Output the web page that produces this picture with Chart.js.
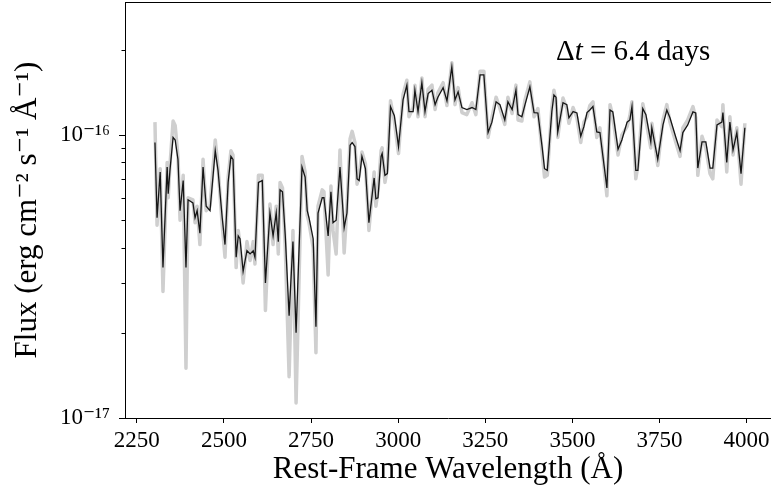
<!DOCTYPE html>
<html>
<head>
<meta charset="utf-8">
<script src="https://cdn.jsdelivr.net/npm/chart.js@4/dist/chart.umd.min.js"></script>
<style>
  body { margin: 0; background: #fff; }
  #wrap { width: 771px; height: 495px; }
</style>
</head>
<body>
<div id="wrap"><canvas id="spectrum" width="771" height="495"></canvas></div>
<script>
// rest-frame wavelength (Angstrom)
const wavelength = [2302, 2308, 2317, 2325, 2337, 2340, 2345, 2354, 2360, 2368,
    2374, 2383, 2391, 2397, 2411, 2417, 2423, 2431, 2440, 2449,
    2460, 2475, 2483, 2495, 2503, 2512, 2520, 2526, 2535, 2541,
    2546, 2555, 2566, 2575, 2584, 2589, 2599, 2610, 2619, 2632,
    2641, 2650, 2656, 2661, 2668, 2676, 2687, 2698, 2707, 2724,
    2733, 2739, 2744, 2756, 2764, 2770, 2782, 2787, 2799, 2807,
    2813, 2822, 2833, 2845, 2853, 2862, 2868, 2876, 2882, 2888,
    2896, 2906, 2916, 2931, 2936, 2942, 2951, 2954, 2962, 2969,
    2978, 2989, 3001, 3014, 3025, 3031, 3043, 3048, 3057, 3068,
    3077, 3086, 3097, 3106, 3114, 3129, 3140, 3154, 3163, 3172,
    3183, 3197, 3212, 3223, 3235, 3246, 3258, 3269, 3281, 3292,
    3306, 3315, 3327, 3338, 3344, 3355, 3364, 3378, 3390, 3401,
    3413, 3420, 3428, 3441, 3447, 3453, 3458, 3473, 3484, 3490,
    3502, 3513, 3524, 3533, 3542, 3550, 3559, 3570, 3579, 3599,
    3608, 3616, 3631, 3642, 3657, 3665, 3671, 3682, 3688, 3702,
    3711, 3725, 3728, 3745, 3760, 3771, 3780, 3797, 3809, 3817,
    3831, 3846, 3854, 3860, 3872, 3883, 3895, 3903, 3915, 3929,
    3932, 3943, 3952, 3961, 3972, 3984, 3995];

// flux in units of 1e-17 erg/cm2/s/A : smoothed (black) and raw (grey)
const FLUX_UNIT = 1e-17;
const fluxSmooth = [9.4, 5.1, 7.4, 3.4, 7.7, 6.2, 7.5, 9.8, 9.6, 8.2,
    5.4, 6.9, 3.4, 5.9, 5.75, 5.1, 5.4, 4.5, 7.7, 5.6,
    5.4, 8.8, 7.5, 5.1, 4.1, 6.8, 8.4, 8.2, 3.7, 4.4,
    4.3, 3.3, 3.9, 3.8, 3.9, 3.7, 6.8, 6.9, 3.0, 5.3,
    4.4, 5.3, 4.2, 6.4, 6.3, 4.4, 2.3, 4.2, 2.0, 7.7,
    7.1, 5.4, 5.1, 4.3, 2.1, 5.3, 6.0, 6.0, 4.4, 6.3,
    4.9, 5.0, 7.7, 4.7, 5.3, 9.2, 9.4, 9.1, 7.0, 6.9,
    8.4, 7.6, 4.9, 7.05, 5.95, 6.0, 8.4, 8.6, 7.2, 7.3,
    12.6, 11.7, 9.1, 13.3, 15.0, 12.1, 12.1, 14.4, 12.1, 15.3,
    12.1, 14.0, 14.4, 12.8, 13.6, 14.7, 13.2, 17.4, 13.3, 14.2,
    12.5, 12.3, 12.5, 12.3, 16.3, 16.3, 10.2, 11.1, 13.1, 12.8,
    11.3, 13.1, 12.3, 14.4, 11.8, 11.6, 12.8, 14.8, 12.0, 11.96,
    9.1, 7.6, 7.5, 12.1, 13.85, 13.6, 10.25, 13.0, 12.8, 11.5,
    12.1, 11.96, 9.9, 10.7, 12.0, 12.25, 12.6, 10.25, 10.2, 6.5,
    12.25, 12.06, 8.9, 9.6, 11.1, 11.3, 12.6, 7.5, 7.5, 12.4,
    11.8, 9.45, 10.6, 8.2, 10.85, 12.25, 11.5, 9.8, 8.8, 10.2,
    10.85, 12.06, 11.96, 7.64, 9.45, 9.45, 7.64, 7.64, 10.85, 11.1,
    12.0, 8.0, 11.1, 8.85, 10.2, 7.3, 10.6];
const fluxRaw = [11.1, 4.8, 7.6, 2.8, 8.0, 6.0, 7.8, 11.2, 10.8, 8.4,
    5.0, 7.2, 1.5, 6.0, 5.9, 4.9, 5.6, 4.1, 8.2, 5.4,
    5.6, 9.6, 7.7, 4.8, 3.7, 7.1, 8.8, 8.5, 3.4, 4.6,
    4.1, 3.0, 4.2, 3.6, 4.2, 3.5, 7.2, 7.2, 2.4, 5.7,
    4.1, 5.6, 3.8, 6.8, 6.5, 4.0, 1.4, 4.6, 1.13, 8.4,
    7.4, 5.2, 4.9, 4.0, 1.7, 5.6, 6.4, 6.3, 3.2, 6.6,
    4.6, 3.8, 8.85, 3.83, 5.6, 9.7, 10.3, 9.4, 6.7, 7.2,
    8.7, 7.9, 4.6, 7.4, 5.6, 6.3, 8.8, 9.0, 6.8, 7.6,
    13.2, 11.2, 8.6, 13.9, 15.6, 11.6, 12.5, 15.0, 11.6, 15.9,
    11.6, 14.5, 15.0, 12.3, 14.1, 15.3, 12.7, 18.0, 12.8, 14.7,
    12.0, 11.8, 13.0, 11.8, 16.8, 16.8, 9.8, 11.5, 13.6, 12.4,
    10.9, 13.6, 11.9, 15.0, 11.3, 11.2, 13.3, 15.4, 11.6, 12.4,
    8.7, 7.1, 7.2, 12.5, 14.4, 13.2, 9.8, 13.5, 12.4, 11.0,
    12.5, 11.5, 9.4, 11.1, 11.6, 12.7, 13.1, 9.8, 10.6, 6.1,
    12.8, 11.6, 8.5, 10.0, 10.7, 11.7, 13.1, 7.0, 7.8, 12.9,
    11.3, 9.0, 11.0, 7.8, 11.3, 12.8, 11.1, 9.4, 8.4, 10.6,
    11.3, 12.6, 11.5, 7.2, 9.9, 9.0, 7.3, 7.0, 11.3, 10.7,
    12.8, 7.4, 11.6, 8.5, 10.6, 6.7, 11.0];

const xTicks = [2250, 2500, 2750, 3000, 3250, 3500, 3750, 4000];
const yMajorTicks = [1e-17, 1e-16];
const yTickLabels = ['10\u207B\u00B9\u2077', '10\u207B\u00B9\u2076'];
const yMinorTicks = [2e-17, 3e-17, 4e-17, 5e-17, 6e-17, 7e-17, 8e-17, 9e-17, 2e-16];

const serif = "'Liberation Serif', 'DejaVu Serif', serif";

function toPoints(flux) {
    return wavelength.map((w, i) => ({ x: w, y: flux[i] * FLUX_UNIT }));
}

// top spine, y tick marks (major + minor) and the epoch label
const extras = {
    id: 'extras',
    afterDraw(chart) {
        const { ctx, chartArea: a, scales } = chart;
        const y = scales.y;
        ctx.save();
        ctx.strokeStyle = '#000';
        ctx.lineWidth = 1;
        ctx.beginPath();
        ctx.moveTo(a.left, a.top + 0.5);
        ctx.lineTo(a.right, a.top + 0.5);
        y.ticks.forEach(t => {
            const py = Math.round(y.getPixelForValue(t.value)) + 0.5;
            const len = t.major ? 6 : 3.5;
            ctx.moveTo(a.left - len, py);
            ctx.lineTo(a.left, py);
        });
        ctx.stroke();

        ctx.fillStyle = '#000';
        ctx.textBaseline = 'alphabetic';
        let x = 556;
        const base = 60;
        ctx.font = '29px ' + serif;
        ctx.fillText('\u0394', x, base);
        x += ctx.measureText('\u0394').width;
        ctx.font = 'italic 29px ' + serif;
        ctx.fillText('t', x, base);
        x += ctx.measureText('t').width;
        ctx.font = '29px ' + serif;
        ctx.fillText(' = 6.4 days', x, base);
        ctx.restore();
    }
};

new Chart(document.getElementById('spectrum'), {
    type: 'line',
    data: {
        datasets: [{
            label: 'smoothed',
            data: toPoints(fluxSmooth),
            borderColor: '#161616',
            borderWidth: 1.3,
            pointRadius: 0,
            tension: 0
        }, {
            label: 'raw',
            data: toPoints(fluxRaw),
            borderColor: '#cfcfcf',
            borderWidth: 3.5,
            borderJoinStyle: 'round',
            pointRadius: 0,
            tension: 0
        }]
    },
    options: {
        responsive: false,
        animation: false,
        devicePixelRatio: 1,
        layout: { padding: { top: 2, left: 0, right: 0, bottom: 0 } },
        plugins: {
            legend: { display: false },
            tooltip: { enabled: false }
        },
        scales: {
            x: {
                type: 'linear',
                min: 2216,
                max: 4070,
                afterBuildTicks: scale => {
                    scale.ticks = xTicks.map(v => ({ value: v }));
                },
                afterFit: scale => {
                    scale.height = 77;
                    scale.paddingLeft = 0;
                    scale.paddingRight = 0;
                },
                grid: { display: true, drawOnChartArea: false, tickLength: 5, tickColor: '#000' },
                border: { display: true, color: '#000', width: 1 },
                ticks: {
                    autoSkip: false,
                    maxRotation: 0,
                    padding: 4,
                    color: '#000',
                    font: { family: serif, size: 23 },
                    callback: v => String(v)
                },
                title: {
                    display: true,
                    text: 'Rest-Frame Wavelength (\u00C5)',
                    color: '#000',
                    font: { family: serif, size: 31 },
                    padding: { top: 0, bottom: 7 }
                }
            },
            y: {
                type: 'logarithmic',
                min: 1e-17,
                max: 2.95e-16,
                afterBuildTicks: scale => {
                    const all = yMajorTicks.concat(yMinorTicks).sort((a, b) => a - b);
                    scale.ticks = all.map(v => ({ value: v, major: yMajorTicks.includes(v) }));
                },
                afterFit: scale => {
                    scale.width = 125;
                    scale.paddingTop = 0;
                    scale.paddingBottom = 0;
                },
                grid: { display: false, drawTicks: false },
                border: { display: true, color: '#000', width: 1 },
                ticks: {
                    autoSkip: false,
                    padding: 15,
                    labelOffset: 0,
                    color: '#000',
                    font: { family: serif, size: 23 },
                    callback: v => {
                        const i = yMajorTicks.indexOf(v);
                        return i >= 0 ? yTickLabels[i] : '';
                    }
                },
                title: {
                    display: true,
                    text: 'Flux (erg cm\u207B\u00B2 s\u207B\u00B9 \u00C5\u207B\u00B9)',
                    color: '#000',
                    font: { family: serif, size: 31 },
                    padding: { top: 9, bottom: 0 }
                }
            }
        }
    },
    plugins: [extras]
});
</script>
</body>
</html>
